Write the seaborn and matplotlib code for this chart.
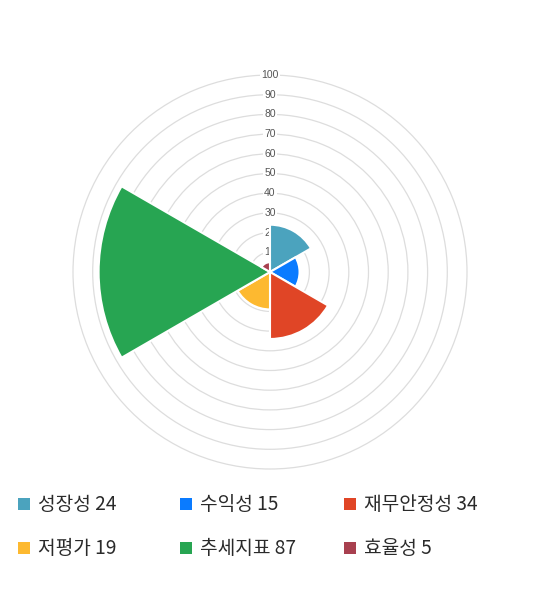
import numpy as np
import pandas as pd
import matplotlib
matplotlib.use("Agg")
import matplotlib.pyplot as plt
from matplotlib.patches import Rectangle
import seaborn as sns

categories = ["성장성", "수익성", "재무안정성", "저평가", "추세지표", "효율성"]
values = [24, 15, 34, 19, 87, 5]
colors = ["#4BA3BE", "#0A7BFF", "#E04526", "#FDB930", "#27A552", "#A8404F"]
rticks = [10, 20, 30, 40, 50, 60, 70, 80, 90, 100]

sns.set_theme(style="white")
plt.rcParams["font.family"] = ["Noto Sans CJK KR", "DejaVu Sans"]

W, H = 540, 590
fig = plt.figure(figsize=(W / 100, H / 100), dpi=100)
fig.patch.set_facecolor("white")

cx, cy, R = 270, 272, 197
ax = fig.add_axes([(cx - R) / W, 1 - (cy + R) / H, 2 * R / W, 2 * R / H], projection="polar")
ax.set_theta_zero_location("N")
ax.set_theta_direction(-1)
ax.set_facecolor("white")

n = len(categories)
theta = np.deg2rad(np.arange(n) * 360 / n + 180 / n)
df = pd.DataFrame({"theta": theta, "value": values, "cat": categories})
sns.barplot(data=df, x="theta", y="value", hue="cat", palette=colors,
            saturation=1, native_scale=True, width=1.0, legend=False, ax=ax,
            edgecolor="white", linewidth=1.5, zorder=2)

ax.set_ylim(0, 100)
ax.set_xticks([])
ax.set_yticks(rticks)
ax.set_yticklabels([])
ax.set_xlabel("")
ax.set_ylabel("")
ax.set_axisbelow(True)
ax.grid(True, color="#dddddd", linewidth=0.9)
for gl in ax.yaxis.get_gridlines():
    gl.set_clip_on(False)
ax.spines["polar"].set_visible(False)

for t in rticks:
    ax.text(0, t, str(t), ha="center", va="center", fontsize=7.5, color="#555555",
            family=["Liberation Sans", "DejaVu Sans"], zorder=1.5,
            bbox=dict(boxstyle="square,pad=0.1", fc="white", ec="none"))

# legend
col_x = [18, 180, 344]
row_y = [504, 548]
for i, (c, v, col) in enumerate(zip(categories, values, colors)):
    x = col_x[i % 3]
    y = row_y[i // 3]
    fig.patches.append(Rectangle((x / W, 1 - (y + 6) / H), 12 / W, 12 / H,
                                 transform=fig.transFigure, facecolor=col,
                                 edgecolor="none"))
    fig.text((x + 20) / W, 1 - y / H, f"{c} {v}", ha="left", va="center",
             fontsize=13.8, color="#2a2a2a")

fig.savefig("out.png", dpi=100, facecolor="white")
